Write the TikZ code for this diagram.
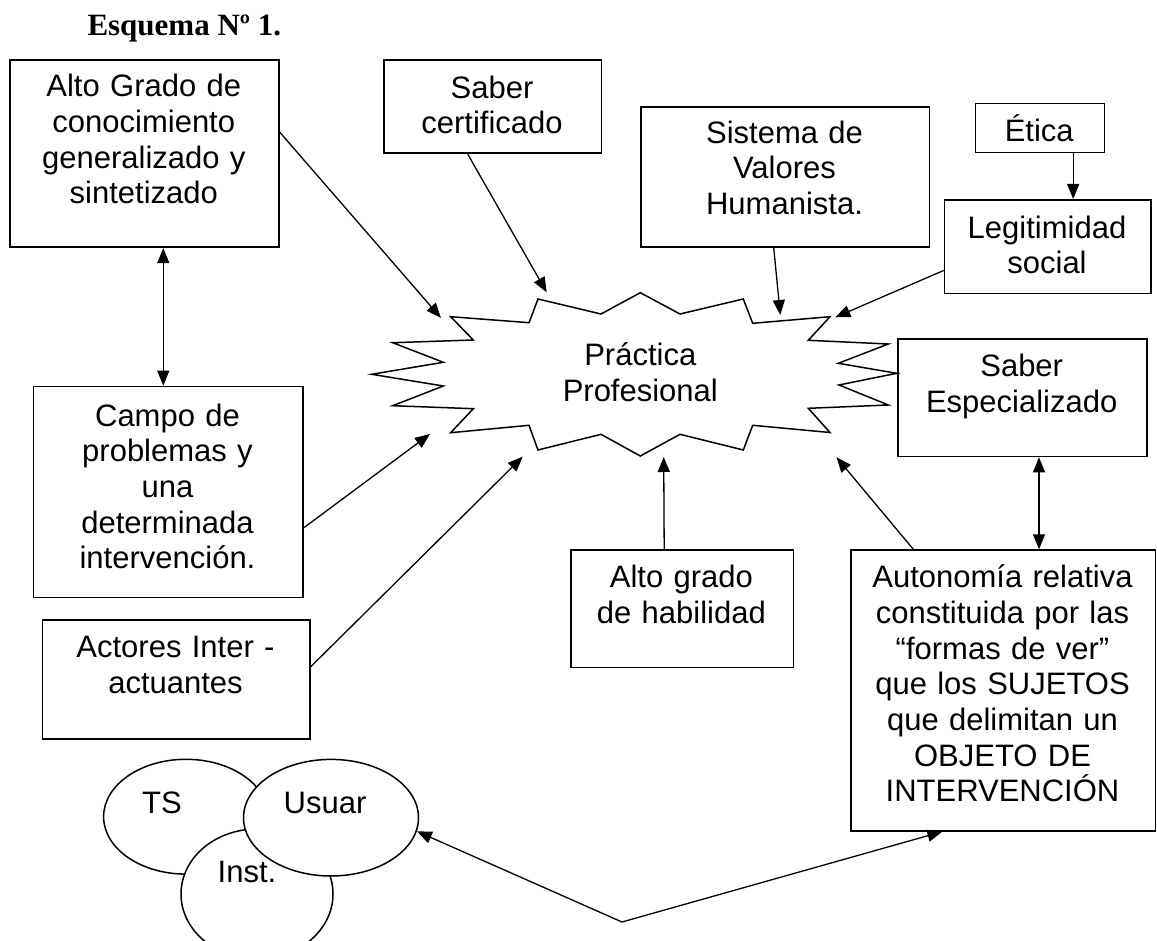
\documentclass[tikz,border=0pt]{standalone}
\usepackage{fontspec}
\setmainfont{Liberation Sans}
\newfontfamily\titlefont{Liberation Serif}
\usetikzlibrary{arrows.meta,calc,shapes.geometric}
\begin{document}
\begin{tikzpicture}[x=1pt,y=-1pt,
  box/.style={draw, line width=1.6pt, rectangle, inner sep=0pt, anchor=north west},
  txt/.style={inner sep=0pt, anchor=base, align=center, text width=#1, font=\fontsize{31}{35.7}\selectfont},
  txt/.default=300pt,
  conn/.style={line width=1.3pt, -{Triangle[length=15pt,width=12pt]}},
  dconn/.style={line width=1.3pt, {Triangle[length=15pt,width=12pt]}-{Triangle[length=15pt,width=12pt]}},
  oval/.style={draw, ellipse, fill=white, line width=1.5pt, inner sep=0pt},
  burst/.style={draw, line width=1.5pt, line join=miter}
]
\useasboundingbox (0,0) rectangle (1157,941);

% title
\node[anchor=base west, inner sep=0pt, font=\titlefont\bfseries\fontsize{31}{36}\selectfont] (title) at (87.3,36) {Esquema Nº 1.};

% boxes
\node[box, minimum width=269pt, minimum height=187.2pt] (A) at (9.3,59.3) {};
\node[txt=265pt] (At) at (143.8,96.7) {Alto Grado de\\conocimiento\\generalizado y\\sintetizado};

\node[box, minimum width=217.4pt, minimum height=92.7pt] (SC) at (383.3,59.3) {};
\node[txt=215pt] (SCt) at (492,98.3) {Saber\\certificado};

\node[box, minimum width=288.4pt, minimum height=140pt] (SV) at (640.3,106) {};
\node[txt=285pt] (SVt) at (784.5,143.3) {Sistema de\\Valores\\Humanista.};

\node[box, minimum width=129pt, minimum height=49pt] (ET) at (974.7,102.7) {};
\node[txt=125pt] (ETt) at (1039.2,141.7) {Ética};

\node[box, minimum width=206.6pt, minimum height=93.7pt] (LS) at (943.7,199) {};
\node[txt=204pt] (LSt) at (1047,238.3) {Legitimidad\\social};

\node[box, minimum width=249.3pt, minimum height=117.4pt] (SE) at (897,338.3) {};
\node[txt=246pt] (SEt) at (1021.7,376.7) {Saber\\Especializado};

\node[box, minimum width=269.6pt, minimum height=211pt] (CP) at (32.7,385.7) {};
\node[txt=266pt] (CPt) at (167.5,426) {Campo de\\problemas y\\una\\determinada\\intervención.};

\node[box, minimum width=267.6pt, minimum height=118.7pt] (AC) at (41.7,619.3) {};
\node[txt=264pt] (ACt) at (175.5,657.3) {Actores Inter -\\actuantes};

\node[box, minimum width=222.7pt, minimum height=117.4pt] (AG) at (570,549.3) {};
\node[txt=220pt] (AGt) at (681.4,587.7) {Alto grado\\de habilidad};

\node[box, minimum width=304.4pt, minimum height=280.7pt] (AU) at (850.3,549.3) {};
\node[txt=300pt] (AUt) at (1002.5,587.7) {Autonomía relativa\\constituida por las\\“formas de ver”\\que los SUJETOS\\que delimitan un\\OBJETO DE\\INTERVENCIÓN};

% starburst
\draw[burst] (450.7,316.7) -- (529,322.7) -- (538,299) -- (601,314) -- (640.3,292.7) -- (680,314)
  -- (743.3,299) -- (752.7,323.3) -- (830,316.7) -- (808.3,340.3) -- (888.3,344) -- (838.3,363.3)
  -- (896.7,373.3) -- (839,385) -- (888.3,405) -- (808.3,408.3) -- (830,432.5) -- (752.7,425.3)
  -- (743.3,450) -- (680,434.3) -- (640.3,456) -- (601,434.3) -- (538,450) -- (529,425.3)
  -- (450.7,432.7) -- (473.3,408.7) -- (392.7,405.7) -- (443.3,386) -- (371.7,374.3)
  -- (443.3,362.3) -- (392.7,342.7) -- (473.3,340) -- cycle;
\node[txt=250pt] (P) at (640.3,366) {Práctica\\Profesional};

% arrow tips at the starburst
\coordinate (tA) at (441,318);
\coordinate (tSC) at (546.7,292.3);
\coordinate (tSV) at (780.3,315);
\coordinate (tLS) at (835.3,317.3);
\coordinate (tCP) at (430,434);
\coordinate (tAC) at (522.7,456.7);
\coordinate (tAG) at (663.7,457);
\coordinate (tAU) at (836.5,457.3);
\coordinate (J) at (622,922);

% connectors into the starburst
\draw[conn] ($(A.north east)!0.387!(A.south east)$) -- (tA);
\draw[conn] ($(SC.south west)!0.384!(SC.south east)$) -- (tSC);
\draw[conn] ($(SV.south west)!0.46!(SV.south east)$) -- (tSV);
\draw[conn] ($(LS.north west)!0.75!(LS.south west)$) -- (tLS);
\draw[conn] ($(CP.north east)!0.668!(CP.south east)$) -- (tCP);
\draw[conn] ($(AC.north east)!0.393!(AC.south east)$) -- (tAC);
\draw[conn] ($(AG.north west)!0.42!(AG.north east)$) -- (tAG);
\draw[conn] ($(AU.north west)!0.206!(AU.north east)$) -- (tAU);

% box to box
\coordinate (eb) at ($(ET.south west)!0.754!(ET.south east)$);
\draw[conn] (eb) -- (eb |- LS.north);
\coordinate (ab) at ($(A.south west)!0.569!(A.south east)$);
\draw[dconn] (ab) -- (ab |- CP.north);
\coordinate (sb) at ($(SE.south west)!0.566!(SE.south east)$);
\draw[dconn] (sb) -- (sb |- AU.north);

% ellipses
\node[oval, minimum width=164.8pt, minimum height=114.8pt] (TS) at (186,816.7) {};
\node[oval, minimum width=152pt, minimum height=130pt] (IN) at (257,894) {};
\node[oval, minimum width=175pt, minimum height=116.6pt] (US) at (331,817.7) {};
\node[txt=100pt] (TSt) at (162,813) {TS};
\node[txt=120pt] (USt) at (325,813) {Usuar};
\node[txt=100pt] (INt) at (247,882.7) {Inst.};

% bottom double connector
\draw[dconn] (US.-9) -- (J) -- ($(AU.south west)!0.301!(AU.south east)$);
\end{tikzpicture}
\end{document}
